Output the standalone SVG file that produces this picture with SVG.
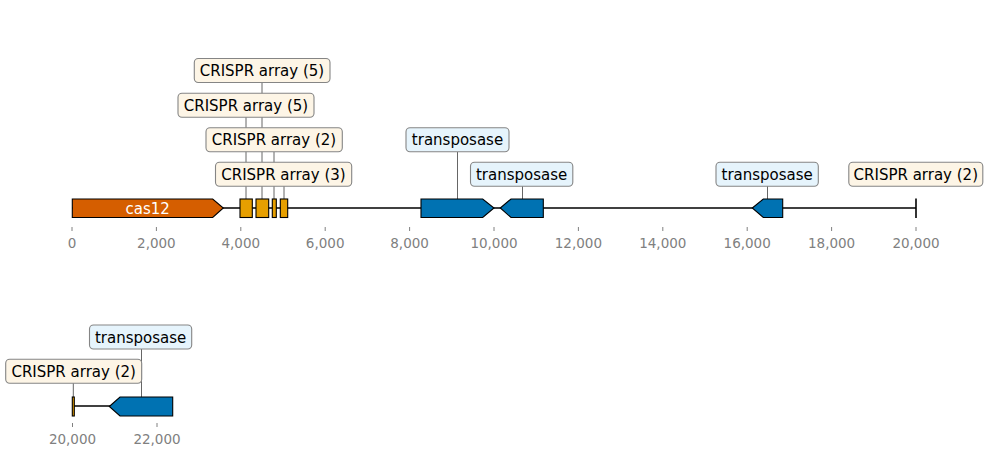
<svg xmlns="http://www.w3.org/2000/svg" width="989" height="457" viewBox="0 0 989 457">
<defs>
<style>
.seq{stroke:#000;stroke-width:1.6;fill:none}
.feat{stroke:#000;stroke-width:1.1;stroke-linejoin:miter}
.cas{fill:#d55e00}
.cr{fill:#e69f00}
.tp{fill:#0072b2}
.lab{stroke:#858585;stroke-width:1.1}
.labcr{fill:#fdf5e6}
.labtp{fill:#e6f4fc}
.lt{font-family:"DejaVu Sans",sans-serif;font-size:15px;fill:#000;text-anchor:middle}
.lk{stroke:#555;stroke-width:0.9}
.tick{stroke:#808080;stroke-width:1}
.tl{font-family:"DejaVu Sans",sans-serif;font-size:13.5px;fill:#808080;text-anchor:middle}
</style>
</defs>
<rect width="989" height="457" fill="#fff"/>
<g id="connectors">
<line class="lk" x1="262" y1="83" x2="262" y2="199"/>
<line class="lk" x1="246" y1="117" x2="246" y2="199"/>
<line class="lk" x1="274" y1="152" x2="274" y2="199"/>
<line class="lk" x1="284" y1="186" x2="284" y2="199"/>
<line class="lk" x1="457.5" y1="152" x2="457.5" y2="199"/>
<line class="lk" x1="522.5" y1="186" x2="522.5" y2="199"/>
<line class="lk" x1="767.5" y1="186" x2="767.5" y2="199"/>
<line class="lk" x1="141.5" y1="349" x2="141.5" y2="397"/>
<line class="lk" x1="73.3" y1="383" x2="73.3" y2="397"/>
</g>
<g id="axis1">
<line class="seq" x1="72" y1="208" x2="916" y2="208"/>
<line class="seq" x1="916" y1="198.5" x2="916" y2="218"/>
<g class="tick">
<line x1="72" y1="227" x2="72" y2="231"/><line x1="156.4" y1="227" x2="156.4" y2="231"/><line x1="240.8" y1="227" x2="240.8" y2="231"/><line x1="325.2" y1="227" x2="325.2" y2="231"/><line x1="409.6" y1="227" x2="409.6" y2="231"/><line x1="494" y1="227" x2="494" y2="231"/><line x1="578.4" y1="227" x2="578.4" y2="231"/><line x1="662.8" y1="227" x2="662.8" y2="231"/><line x1="747.2" y1="227" x2="747.2" y2="231"/><line x1="831.6" y1="227" x2="831.6" y2="231"/><line x1="916" y1="227" x2="916" y2="231"/>
</g>
<text class="tl" x="72" y="248">0</text>
<text class="tl" x="156.4" y="248">2,000</text>
<text class="tl" x="240.8" y="248">4,000</text>
<text class="tl" x="325.2" y="248">6,000</text>
<text class="tl" x="409.6" y="248">8,000</text>
<text class="tl" x="494" y="248">10,000</text>
<text class="tl" x="578.4" y="248">12,000</text>
<text class="tl" x="662.8" y="248">14,000</text>
<text class="tl" x="747.2" y="248">16,000</text>
<text class="tl" x="831.6" y="248">18,000</text>
<text class="tl" x="916" y="248">20,000</text>
</g>
<g id="cas12">
<polygon class="feat cas" points="72.3,199 212.7,199 223.3,208 212.7,217.5 72.3,217.5"/>
<text x="147.7" y="213.5" style="font-family:'DejaVu Sans',sans-serif;font-size:15px;fill:#fff;text-anchor:middle">cas12</text>
</g>
<g id="crispr1"><rect class="feat cr" x="240" y="199" width="12.3" height="18.5"/></g>
<g id="crispr2"><rect class="feat cr" x="256" y="199" width="12.7" height="18.5"/></g>
<g id="crispr3"><rect class="feat cr" x="272.3" y="199" width="4" height="18.5"/></g>
<g id="crispr4"><rect class="feat cr" x="280.3" y="199" width="7.4" height="18.5"/></g>
<g id="transposase1"><polygon class="feat tp" points="421,199 482.7,199 494,208 482.7,217.5 421,217.5"/></g>
<g id="transposase2"><polygon class="feat tp" points="500.3,208 511,199 543.3,199 543.3,217.5 511,217.5"/></g>
<g id="transposase3"><polygon class="feat tp" points="752.3,208 763.3,199 782.7,199 782.7,217.5 763.3,217.5"/></g>
<g id="label-crispr5a">
<rect class="lab labcr" x="194.3" y="58.5" width="135.7" height="24" rx="4"/>
<text class="lt" x="262" y="76">CRISPR array (5)</text>
</g>
<g id="label-crispr5b">
<rect class="lab labcr" x="178" y="93.3" width="136" height="24" rx="4"/>
<text class="lt" x="246" y="110.8">CRISPR array (5)</text>
</g>
<g id="label-crispr2a">
<rect class="lab labcr" x="206" y="127.7" width="136.3" height="24" rx="4"/>
<text class="lt" x="274" y="145.2">CRISPR array (2)</text>
</g>
<g id="label-crispr3">
<rect class="lab labcr" x="215.5" y="162.3" width="136.2" height="24" rx="4"/>
<text class="lt" x="283.5" y="179.8">CRISPR array (3)</text>
</g>
<g id="label-tp1">
<rect class="lab labtp" x="406" y="127.7" width="103" height="24" rx="4"/>
<text class="lt" x="457.5" y="145.2">transposase</text>
</g>
<g id="label-tp2">
<rect class="lab labtp" x="470.5" y="162.3" width="102.3" height="24" rx="4"/>
<text class="lt" x="521.6" y="179.8">transposase</text>
</g>
<g id="label-tp3">
<rect class="lab labtp" x="716" y="162.3" width="102.3" height="24" rx="4"/>
<text class="lt" x="767.2" y="179.8">transposase</text>
</g>
<g id="label-crispr2b">
<rect class="lab labcr" x="848.8" y="162.3" width="134" height="24" rx="4"/>
<text class="lt" x="915.8" y="179.8">CRISPR array (2)</text>
</g>
<g id="axis2">
<line class="seq" x1="73" y1="406" x2="110" y2="406"/>
<line class="tick" x1="72.5" y1="423" x2="72.5" y2="427"/>
<line class="tick" x1="157" y1="423" x2="157" y2="427"/>
<text class="tl" x="72.5" y="444">20,000</text>
<text class="tl" x="157" y="444">22,000</text>
</g>
<g id="crispr5"><rect class="feat cr" x="72.3" y="397" width="2" height="19"/></g>
<g id="transposase4"><polygon class="feat tp" points="109.3,406.5 120,397 172.7,397 172.7,416 120,416"/></g>
<g id="label-tp4">
<rect class="lab labtp" x="89.5" y="325" width="102.2" height="24" rx="4"/>
<text class="lt" x="140.6" y="342.5">transposase</text>
</g>
<g id="label-crispr2c">
<rect class="lab labcr" x="5.7" y="359.3" width="136" height="24" rx="4"/>
<text class="lt" x="73.7" y="376.8">CRISPR array (2)</text>
</g>
</svg>
